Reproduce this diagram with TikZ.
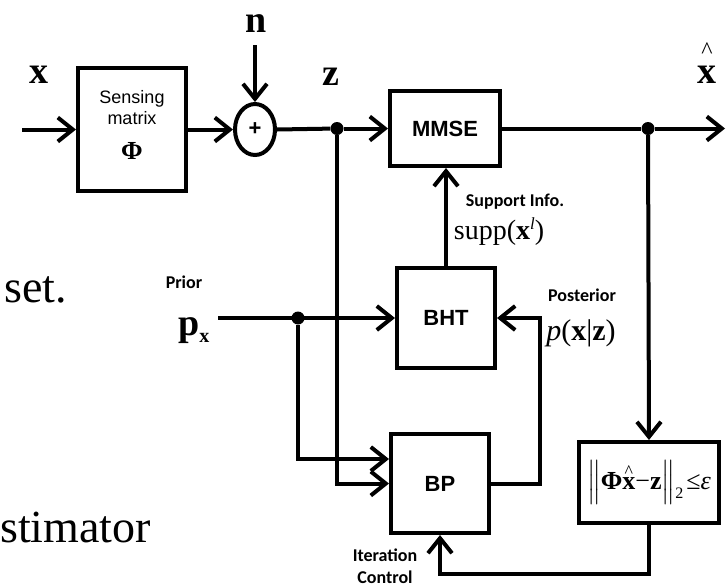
\RequirePackage{fix-cm}
\documentclass[tikz,border=0pt]{standalone}
\usepackage{amsmath}
\usepackage{fontspec}
\setmainfont{Liberation Serif}
\setsansfont{Liberation Sans}
\newfontfamily\calibri{Carlito}
\usetikzlibrary{arrows.meta,positioning,shapes.geometric}
\definecolor{bdInk}{HTML}{000000}
\newcommand{\bdPhi}{\rmfamily\bfseries\fontsize{26}{26}\selectfont Φ\rule[-9pt]{0pt}{9pt}}
\newcommand{\bdHat}[1]{#1\llap{\makebox[0.5em]{\raisebox{12pt}{\mdseries\fontsize{18}{18}\selectfont\^{}}}}}
\tikzset{
  blk/.style={draw=bdInk,line width=4pt,inner sep=2pt,align=center,
              font=\sffamily\bfseries\fontsize{22}{26}\selectfont},
  sig/.style={-{Straight Barb[length=15pt,width=24pt]},draw=bdInk,line width=4pt},
  wire/.style={draw=bdInk,line width=4pt},
  jdot/.style={circle,fill=bdInk,inner sep=0pt,minimum size=13pt},
  sym/.style={font=\bfseries\fontsize{38}{38}\selectfont,inner sep=0pt},
  note/.style={font=\calibri\bfseries\fontsize{18}{22}\selectfont,align=center,inner sep=0pt},
  eqn/.style={font=\fontsize{28}{28}\selectfont,inner sep=0pt},
  slide/.style={font=\fontsize{46}{46}\selectfont,inner sep=0pt,anchor=base west},
}

\begin{document}
\begin{tikzpicture}[x=1pt,y=-1pt]
  \useasboundingbox (0,0) rectangle (726,587);

  % blocks
  \node[blk,minimum width=108pt,minimum height=123pt,font=\sffamily\fontsize{18}{21}\selectfont] (sense) at (132,129.5)
    {Sensing\\matrix\\[14pt]\bdPhi};
  \node[blk,ellipse,minimum width=40pt,minimum height=51pt,inner sep=0pt] (sum) at (255,129.5) {+};
  \node[blk,minimum width=110pt,minimum height=75pt] (mmse) at (445,128.5) {MMSE};
  \node[blk,minimum width=98pt,minimum height=100pt] (bht) at (446,318) {BHT};
  \node[blk,minimum width=98pt,minimum height=99pt] (bp) at (440,483.5) {BP};
  \node[blk,minimum width=140pt,minimum height=81pt,inner sep=0pt,font=\rmfamily\fontsize{26}{26}\selectfont] (check) at (649,482.5)
    {$\Big\|$\textbf{Φ\bdHat{x}}−\textbf{z}$\Big\|$\raisebox{-9pt}{\fontsize{16}{16}\selectfont 2}\hspace{3pt}≤\textit{ε}};

  % junctions and free ends
  \coordinate (xin) at (22,129.5);
  \coordinate (nsrc) at (255,45);
  \node[jdot] (zj) at (337,128.5) {};
  \node[jdot] (xj) at (648,128.5) {};
  \coordinate (xout) at (725,128.5);
  \coordinate (pin) at (218,318);
  \node[jdot] (pj) at (298,318) {};

  % signal labels
  \node[sym,anchor=base] (xlbl) at (39,83) {x};
  \node[sym,anchor=base] (nlbl) at (256,32) {n};
  \node[sym,anchor=base] (zlbl) at (331,85) {z};
  \node[sym,anchor=base,label={[font=\fontsize{24}{24}\selectfont,inner sep=0pt,yshift=7pt]above:\^{}}] (xhatlbl) at (707,83) {x};
  \node[note] (prior) at (184,282) {Prior};
  \node[sym,anchor=base west] (pxlbl) at (178,335) {p\raisebox{-7pt}{\fontsize{20}{20}\selectfont x}};
  \node[note] (suplbl) at (515,202) {Support Info.};
  \node[eqn] (supp) at (499,232) {supp(\textbf{x}\raisebox{10pt}{\fontsize{17}{17}\selectfont\textit{l}})};
  \node[note] (postlbl) at (582,295) {Posterior};
  \node[eqn,font=\fontsize{30}{30}\selectfont] (post) at (581,333) {\textit{p}(\textbf{x}|\textbf{z})};
  \node[note] (iterlbl) at (385,566) {Iteration\\Control};

  % slide text behind the figure
  \node[slide] (txtset) at (4,302) {set.};
  \node[slide] (txtest) at (0,542) {stimator};

  % connectors
  \draw[sig] (xin) -- (sense.west);
  \draw[sig] (sense.east) -- (sum.west);
  \draw[sig] (nsrc) -- (sum.north);
  \draw[wire] (sum.east) -- (zj);
  \draw[sig] (zj) -- (mmse.west);
  \draw[wire] (mmse.east) -- (xj);
  \draw[sig] (xj) -- (xout);
  \draw[sig] (xj) -- (check.north);
  \draw[sig] (bht.north) -- (bht.north|-mmse.south);
  \draw[sig] (pin) -- (bht.west);
  \draw[sig] (pj) |- ([yshift=24.5pt]bp.west);
  \draw[sig] (zj) |- (bp.west);
  \draw[sig] (bp.east) -- ++(49,0) |- (bht.east);
  \draw[sig] (check.south) -- ++(0,49) -| (bp.south);
\end{tikzpicture}
\end{document}
